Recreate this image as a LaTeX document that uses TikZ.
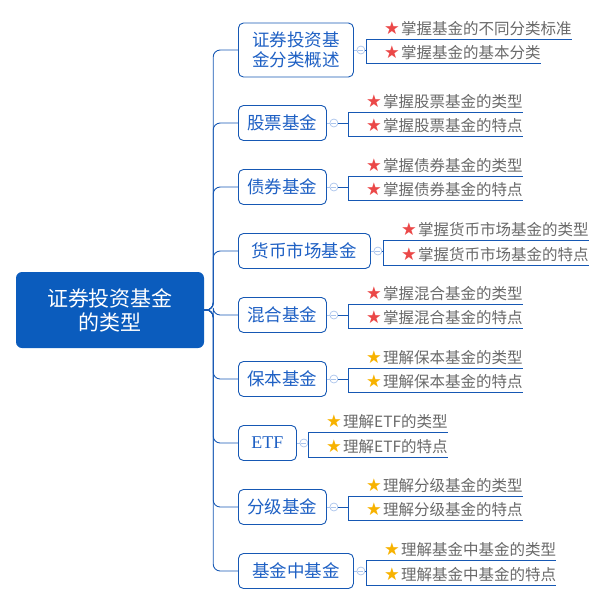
\documentclass[tikz,border=0pt]{standalone}
\usepackage{fontspec}
\setmainfont{Noto Sans CJK SC}
\newfontfamily\symf{DejaVu Sans}
\newfontfamily\serifl{Liberation Serif}
\definecolor{rootfill}{RGB}{11,92,189}
\definecolor{linecol}{RGB}{22,88,180}
\definecolor{boxtext}{RGB}{30,96,196}
\definecolor{leaftext}{RGB}{105,105,105}
\definecolor{lightc}{RGB}{170,196,236}
\definecolor{starred}{RGB}{235,72,72}
\definecolor{stargold}{RGB}{247,178,0}
\newcommand{\rst}{\makebox[17pt][l]{\fontsize{17.5}{15}\symf\textcolor{starred}{★}}}
\newcommand{\gst}{\makebox[17pt][l]{\fontsize{17.5}{15}\symf\textcolor{stargold}{★}}}
\newcommand{\lf}[2]{\hspace{18pt}#1#2\hspace{15pt}}
\begin{document}
\begin{tikzpicture}[x=1pt,y=-1pt,
  root/.style={fill=rootfill, rounded corners=6pt, text=white, align=center,
    font=\fontsize{21}{24}\selectfont, minimum width=188pt, minimum height=76pt, inner sep=0pt},
  box/.style={draw=linecol, line width=0.9pt, fill=white, rounded corners=5pt, text=boxtext,
    align=center, font=\fontsize{17.5}{20}\selectfont, minimum height=35pt, inner sep=0pt, anchor=west},
  conn/.style={draw=linecol, line width=0.9pt},
  lconn/.style={draw=lightc, line width=0.9pt},
  coll/.style={circle, draw=lightc, fill=white, line width=0.7pt, minimum size=8pt, inner sep=0pt,
    path picture={\draw[lightc, line width=0.7pt] ([xshift=-2.5pt]path picture bounding box.center) -- ([xshift=2.5pt]path picture bounding box.center);}},
  leaf/.style={anchor=south west, inner xsep=0pt, inner ysep=3.5pt, text=leaftext,
    font=\fontsize{15.5}{17}\selectfont},
  uline/.style={draw=linecol, line width=0.9pt}
]
\useasboundingbox (0,0) rectangle (605,606);

\node[root] (root) at (110,310) {证券投资基金\\的类型};

\node[box, minimum width=115pt, minimum height=54pt] (b1) at (238,50) {证券投资基\\金分类概述};
\node[box, minimum width=88pt] (b2) at (238,123) {股票基金};
\node[box, minimum width=88pt] (b3) at (238,187) {债券基金};
\node[box, minimum width=132pt] (b4) at (238,251) {货币市场基金};
\node[box, minimum width=88pt] (b5) at (238,315) {混合基金};
\node[box, minimum width=88pt] (b6) at (238,379) {保本基金};
\node[box, minimum width=58pt, font=\fontsize{18}{20}\serifl] (b7) at (238,443) {ETF};
\node[box, minimum width=88pt] (b8) at (238,507) {分级基金};
\node[box, minimum width=115pt] (b9) at (238,571) {基金中基金};

\foreach \i in {1,...,9}{
  \draw[conn, rounded corners=7pt] (root.east) -- ++(9,0) |- (b\i.west);
  \node[coll] (c\i) at ([xshift=7pt]b\i.east) {};
  \draw[lconn] (b\i.east) -- (c\i.west);
}

% leaves
\node[leaf] (l1a) at (366,39) {\lf{\rst}{掌握基金的不同分类标准}};
\node[leaf] (l1b) at (366,63) {\lf{\rst}{掌握基金的基本分类}};
\node[leaf] (l2a) at (348,112) {\lf{\rst}{掌握股票基金的类型}};
\node[leaf] (l2b) at (348,136) {\lf{\rst}{掌握股票基金的特点}};
\node[leaf] (l3a) at (348,176) {\lf{\rst}{掌握债券基金的类型}};
\node[leaf] (l3b) at (348,200) {\lf{\rst}{掌握债券基金的特点}};
\node[leaf] (l4a) at (383,240) {\lf{\rst}{掌握货币市场基金的类型}};
\node[leaf] (l4b) at (383,265) {\lf{\rst}{掌握货币市场基金的特点}};
\node[leaf] (l5a) at (348,304) {\lf{\rst}{掌握混合基金的类型}};
\node[leaf] (l5b) at (348,328) {\lf{\rst}{掌握混合基金的特点}};
\node[leaf] (l6a) at (348,368) {\lf{\gst}{理解保本基金的类型}};
\node[leaf] (l6b) at (348,392) {\lf{\gst}{理解保本基金的特点}};
\node[leaf] (l7a) at (308,432) {\lf{\gst}{理解ETF的类型}};
\node[leaf] (l7b) at (308,457) {\lf{\gst}{理解ETF的特点}};
\node[leaf] (l8a) at (348,496) {\lf{\gst}{理解分级基金的类型}};
\node[leaf] (l8b) at (348,520) {\lf{\gst}{理解分级基金的特点}};
\node[leaf] (l9a) at (366,560) {\lf{\gst}{理解基金中基金的类型}};
\node[leaf] (l9b) at (366,585) {\lf{\gst}{理解基金中基金的特点}};

\foreach \i in {1,...,9}{
  \draw[uline] (l\i a.south west) -- (l\i a.south east);
  \draw[uline] (l\i b.south west) -- (l\i b.south east);
  \draw[uline] (l\i a.south west) -- (l\i b.south west);
  \draw[conn] (c\i.east) -- (c\i.east -| l\i a.south west);
}
\end{tikzpicture}
\end{document}
